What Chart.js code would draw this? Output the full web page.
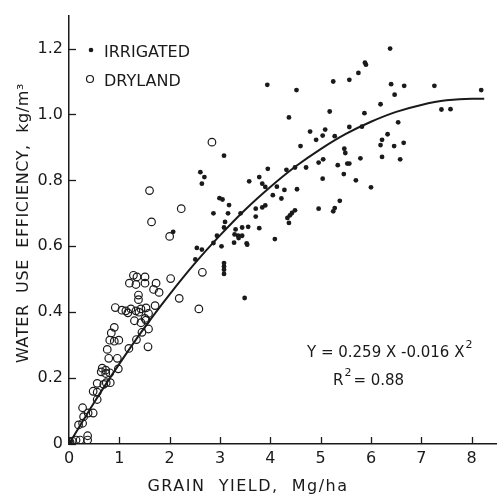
<!DOCTYPE html>
<html>
<head>
<meta charset="utf-8">
<style>
  body { margin: 0; background: #fff; }
</style>
<script src="https://cdn.jsdelivr.net/npm/chart.js"></script>
</head>
<body>
<canvas id="myChart" width="502" height="497"></canvas>
<script>
// values
var irrigatedX = [3.94, 3.08, 2.61, 2.69, 2.64, 3.95, 3.58, 3.78, 3.84, 3.90, 4.05, 2.99, 3.05, 3.18, 2.87, 3.16, 3.41, 3.71,
  3.84, 3.90, 3.71, 3.10, 3.31, 3.44, 3.56, 3.78, 3.08, 3.36, 3.29, 3.53, 4.09, 2.94, 2.87,
  2.07, 2.54, 2.64, 2.51, 3.03, 3.08, 3.08, 3.08, 3.08, 3.49, 3.28, 3.37, 3.44, 3.54,
  6.38, 5.88, 5.90, 5.75, 5.25, 5.57, 4.52, 6.40, 6.66, 7.26, 8.19, 6.47, 6.19, 7.40, 7.58, 5.18, 5.87, 4.37,
  5.57, 5.82, 6.54, 4.79, 5.09, 4.91, 5.04, 5.28, 6.33, 6.22, 6.19, 6.46, 6.65, 4.60, 5.47, 5.49, 6.22, 6.58,
  5.05, 4.96, 5.79, 5.34, 5.53, 5.57, 4.32, 4.49, 4.71, 4.13, 4.28, 4.53, 4.22, 5.04, 5.46, 5.70, 6.00, 5.38,
  5.28, 5.25, 4.96, 4.49, 4.43, 4.39, 4.34, 4.37, 0.02];
var irrigatedY = [1.09, 0.875, 0.825, 0.81, 0.79, 0.835, 0.797, 0.81, 0.79, 0.78, 0.755, 0.746, 0.742, 0.725, 0.70, 0.70, 0.70, 0.714,
  0.718, 0.724, 0.69, 0.674, 0.651, 0.657, 0.659, 0.655, 0.657, 0.632, 0.636, 0.609, 0.622, 0.632, 0.61,
  0.644, 0.595, 0.59, 0.56, 0.60, 0.549, 0.539, 0.529, 0.516, 0.443, 0.611, 0.625, 0.632, 0.605,
  1.20, 1.157, 1.151, 1.126, 1.10, 1.105, 1.074, 1.092, 1.087, 1.087, 1.074, 1.06, 1.031, 1.015, 1.016, 1.009, 1.004, 0.991,
  0.962, 0.963, 0.976, 0.948, 0.954, 0.923, 0.936, 0.934, 0.94, 0.923, 0.907, 0.904, 0.914, 0.904, 0.896, 0.883, 0.871, 0.864,
  0.864, 0.854, 0.867, 0.846, 0.851, 0.851, 0.832, 0.839, 0.839, 0.781, 0.771, 0.773, 0.745, 0.805, 0.819, 0.80, 0.779, 0.738,
  0.716, 0.706, 0.714, 0.709, 0.701, 0.694, 0.686, 0.671, 0.005];

var drylandX = [2.00, 2.02, 2.19, 2.65, 2.58, 1.28, 1.35, 1.33, 1.51, 1.51, 1.20, 1.73, 1.68, 1.79, 1.38, 1.38,
  0.92, 1.05, 1.13, 1.17, 1.23, 1.33, 1.43, 1.53, 1.39, 1.30, 1.43, 1.53, 1.58, 1.51,
  1.71, 0.90, 0.84, 0.81, 0.90, 0.99, 1.34, 1.58, 1.45, 1.57, 1.19, 0.76,
  0.79, 0.96, 0.98, 0.66, 0.64, 0.73, 0.73, 0.81, 0.82, 0.74, 0.69, 0.56, 0.48, 0.56, 0.56,
  0.27, 0.48, 0.38, 0.29, 0.27, 0.19, 0.37, 0.37, 0.22, 0.14, 0.065, 0.02,
  1.60, 2.23, 1.64, 2.84];
var drylandY = [0.63, 0.502, 0.442, 0.521, 0.41, 0.512, 0.507, 0.484, 0.507, 0.488, 0.488, 0.488, 0.469, 0.46, 0.452, 0.438,
  0.414, 0.406, 0.404, 0.398, 0.41, 0.404, 0.41, 0.413, 0.40, 0.374, 0.368, 0.376, 0.396, 0.381,
  0.42, 0.354, 0.337, 0.315, 0.312, 0.315, 0.317, 0.349, 0.339, 0.295, 0.29, 0.287,
  0.26, 0.26, 0.228, 0.23, 0.219, 0.224, 0.214, 0.216, 0.186, 0.186, 0.181, 0.184, 0.16, 0.157, 0.135,
  0.11, 0.094, 0.094, 0.083, 0.063, 0.058, 0.025, 0.012, 0.012, 0.012, 0.009, 0.006,
  0.769, 0.714, 0.674, 0.916];

// fitted curve, points
var curveX = [0, 0.5, 1, 1.5, 2, 2.5, 3, 3.5, 4, 4.5, 5, 5.5, 6, 6.5, 7, 7.5, 8, 8.25];
var curveY = [0, 0.126, 0.243, 0.353, 0.454, 0.548, 0.633, 0.711, 0.780, 0.842, 0.895, 0.941, 0.978, 1.008, 1.029, 1.043, 1.048, 1.048];

var xTicks = [0, 1, 2, 3, 4, 5, 6, 7, 8];
var yTicks = [0, 0.2, 0.4, 0.6, 0.8, 1.0, 1.2];

function pts(xs, ys) {
  return xs.map((x, i) => ({ x: x, y: ys[i] }));
}

var FONT = '"DejaVu Sans", sans-serif';
var INK = '#1a1a1a';

var decor = {
  id: 'decor',
  afterDraw(chart) {
    var c = chart.ctx, xs = chart.scales.x, ys = chart.scales.y;
    c.save();
    c.strokeStyle = INK;
    c.fillStyle = INK;
    c.lineWidth = 1.3;
    // inward tick marks
    yTicks.forEach(v => {
      var py = Math.round(ys.getPixelForValue(v)) + 0.5;
      c.beginPath(); c.moveTo(xs.left, py); c.lineTo(xs.left + 7, py); c.stroke();
    });
    xTicks.forEach(v => {
      var px = Math.round(xs.getPixelForValue(v)) + 0.5;
      c.beginPath(); c.moveTo(px, ys.bottom); c.lineTo(px, ys.bottom - 7); c.stroke();
    });

    // legend
    c.font = '16px ' + FONT;
    c.textBaseline = 'alphabetic';
    c.textAlign = 'left';
    c.beginPath(); c.arc(91, 50, 2.3, 0, Math.PI * 2); c.fill();
    c.fillText('IRRIGATED', 104, 57);
    c.beginPath(); c.arc(90, 79, 3.5, 0, Math.PI * 2); c.lineWidth = 1.2; c.stroke();
    c.fillText('DRYLAND', 104, 86);

    // equation
    c.font = '15px ' + FONT;
    var eq = 'Y = 0.259 X -0.016 X';
    c.fillText(eq, 307, 357);
    var w = c.measureText(eq).width;
    c.font = '11px ' + FONT;
    c.fillText('2', 307 + w + 1, 348);
    c.font = '15px ' + FONT;
    c.fillText('R', 333, 385);
    var wr = c.measureText('R').width;
    c.font = '11px ' + FONT;
    c.fillText('2', 333 + wr + 1, 376);
    c.font = '15px ' + FONT;
    c.fillText('= 0.88', 333 + wr + 10, 385);

    // axis titles
    c.font = '16px ' + FONT;
    c.textAlign = 'center';
    c.letterSpacing = '1.5px';
    c.fillText('GRAIN  YIELD,  Mg/ha', 248, 491);
    c.letterSpacing = '0.6px';
    c.translate(28, 223);
    c.rotate(-Math.PI / 2);
    c.fillText('WATER  USE  EFFICIENCY,  kg/m\u00b3', 0, 0);
    c.restore();
  }
};

var ctx = document.getElementById('myChart').getContext('2d');
var chart = new Chart(ctx, {
  type: 'scatter',
  data: {
    datasets: [{
      label: 'IRRIGATED',
      data: pts(irrigatedX, irrigatedY),
      backgroundColor: INK,
      borderWidth: 0,
      pointRadius: 2.4
    }, {
      label: 'DRYLAND',
      data: pts(drylandX, drylandY),
      backgroundColor: 'rgba(0,0,0,0)',
      borderColor: INK,
      borderWidth: 1.2,
      pointRadius: 3.8
    }, {
      type: 'line',
      label: 'fit',
      data: pts(curveX, curveY),
      borderColor: INK,
      borderWidth: 2,
      pointRadius: 0,
      fill: false,
      cubicInterpolationMode: 'monotone'
    }]
  },
  options: {
    responsive: false,
    animation: false,
    layout: { padding: { top: 4, right: 0, left: 0, bottom: 0 } },
    plugins: {
      legend: { display: false },
      tooltip: { enabled: false }
    },
    scales: {
      x: {
        type: 'linear',
        min: 0, max: 8.5,
        afterBuildTicks: s => { s.ticks = xTicks.map(v => ({ value: v })); },
        afterFit: s => { s.height = 53; },
        grid: { display: false, drawTicks: false },
        border: { color: INK, width: 1.5 },
        ticks: { color: INK, padding: 5, font: { family: FONT, size: 16 }, callback: v => String(v) }
      },
      y: {
        type: 'linear',
        min: 0, max: 1.3,
        afterBuildTicks: s => { s.ticks = yTicks.map(v => ({ value: v })); },
        afterFit: s => { s.width = 69; },
        grid: { display: false, drawTicks: false },
        border: { color: INK, width: 1.5 },
        ticks: { color: INK, padding: 6, font: { family: FONT, size: 16 }, callback: v => v === 0 ? '0' : v.toFixed(1) }
      }
    }
  },
  plugins: [decor]
});
</script>
</body>
</html>
